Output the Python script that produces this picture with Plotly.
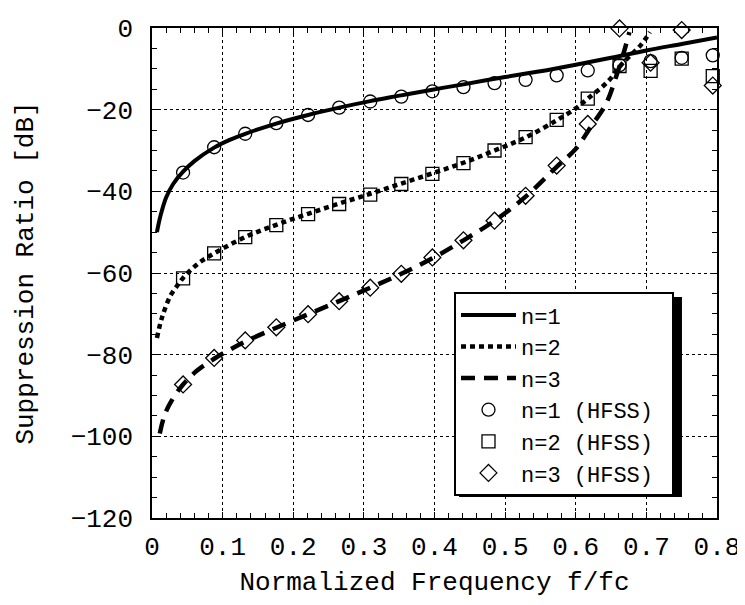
import plotly.graph_objects as go

# ---- data ----
n1_x = [0.007, 0.012, 0.02, 0.03, 0.044, 0.06, 0.088, 0.11, 0.132, 0.176, 0.221, 0.265,
        0.309, 0.353, 0.397, 0.441, 0.5, 0.55, 0.6, 0.65, 0.7, 0.75, 0.8]
n1_y = [-50.0, -46.0, -41.5, -38.2, -35.2, -32.6, -29.3, -27.4, -25.9, -23.4, -21.3, -19.5,
        -17.9, -16.5, -15.1, -13.8, -12.0, -10.6, -9.0, -7.3, -5.5, -3.9, -2.3]

n2_x = [0.007, 0.014, 0.026, 0.037, 0.044, 0.066, 0.088, 0.132, 0.176, 0.221, 0.265, 0.309,
        0.353, 0.397, 0.441, 0.485, 0.529, 0.573, 0.6, 0.617, 0.645, 0.666, 0.692, 0.705]
n2_y = [-75.9, -71.0, -65.6, -62.8, -61.2, -57.6, -55.2, -51.2, -48.2, -45.5, -43.0, -40.6,
        -38.1, -35.6, -33.0, -30.0, -26.8, -22.6, -19.7, -17.3, -13.2, -8.7, -4.2, -1.0]

n3_x = [0.011, 0.018, 0.028, 0.044, 0.063, 0.088, 0.11, 0.132, 0.176, 0.221, 0.265, 0.309,
        0.353, 0.397, 0.441, 0.485, 0.529, 0.573, 0.6, 0.621, 0.643, 0.657, 0.668, 0.676]
n3_y = [-99.3, -94.7, -91.2, -87.3, -84.0, -81.0, -78.8, -76.8, -73.4, -70.1, -66.9, -63.6,
        -60.2, -56.4, -52.0, -47.2, -41.3, -34.0, -29.6, -24.3, -18.5, -12.0, -6.0, -1.0]

hfss_x = [0.044, 0.088, 0.132, 0.176, 0.221, 0.265, 0.309, 0.353, 0.397, 0.441, 0.485, 0.529,
          0.573, 0.617, 0.662, 0.706, 0.750, 0.794]
hfss1_y = [-35.4, -29.2, -25.9, -23.3, -21.3, -19.5, -18.0, -16.8, -15.5, -14.5, -13.5, -12.7,
           -11.6, -10.4, -9.1, -8.1, -7.3, -6.7]
hfss2_y = [-61.3, -55.2, -51.2, -48.3, -45.6, -43.1, -40.8, -38.2, -35.7, -33.1, -30.0, -26.7,
           -22.5, -17.3, -9.3, -10.5, -7.5, -11.8]
hfss3_y = [-87.3, -80.8, -76.5, -73.3, -70.1, -66.9, -63.6, -60.2, -56.2, -52.0, -47.2, -41.1,
           -33.7, -23.5, -0.1, -8.5, -0.5, -14.1]

line_names = ["n=1", "n=2", "n=3"]
hfss_names = ["n=1 (HFSS)\u00a0", "n=2 (HFSS)\u00a0", "n=3 (HFSS)\u00a0"]

x_ticks = [0, 0.1, 0.2, 0.3, 0.4, 0.5, 0.6, 0.7, 0.8]
x_tick_labels = ["0", "0.1", "0.2", "0.3", "0.4", "0.5", "0.6", "0.7", "0.8"]
y_ticks = [0, -20, -40, -60, -80, -100, -120]
y_tick_labels = ["0", "\u221220", "\u221240", "\u221260", "\u221280", "\u2212100", "\u2212120"]

FONT = "Liberation Mono"

fig = go.Figure()
fig.add_trace(go.Scatter(x=n1_x, y=n1_y, mode="lines", name=line_names[0],
                         line=dict(color="black", width=4, shape="spline")))
fig.add_trace(go.Scatter(x=n2_x, y=n2_y, mode="lines", name=line_names[1],
                         line=dict(color="black", width=4.5, dash="5px,4px", shape="spline")))
fig.add_trace(go.Scatter(x=n3_x, y=n3_y, mode="lines", name=line_names[2],
                         line=dict(color="black", width=4.5, dash="14px,9px", shape="spline")))
fig.add_trace(go.Scatter(x=hfss_x, y=hfss1_y, mode="markers", name=hfss_names[0], cliponaxis=False,
                         marker=dict(symbol="circle-open", size=13, color="black",
                                     line=dict(width=1.3, color="black"))))
fig.add_trace(go.Scatter(x=hfss_x, y=hfss2_y, mode="markers", name=hfss_names[1], cliponaxis=False,
                         marker=dict(symbol="square-open", size=13, color="black",
                                     line=dict(width=1.3, color="black"))))
fig.add_trace(go.Scatter(x=hfss_x, y=hfss3_y, mode="markers", name=hfss_names[2], cliponaxis=False,
                         marker=dict(symbol="diamond-open", size=13, color="black",
                                     line=dict(width=1.3, color="black"))))

# legend drop shadow (drawn beneath the legend box)
fig.add_shape(type="rect", xref="paper", yref="paper",
              x0=0.5434, x1=0.938, y0=0.043, y1=0.451,
              fillcolor="black", line=dict(width=0), layer="above")

axis_common = dict(
    showline=True, linecolor="black", linewidth=1.5, mirror="ticks",
    ticks="inside", ticklen=6, tickwidth=1.2, tickcolor="black",
    showgrid=True, gridcolor="black", gridwidth=1, griddash="dot",
    zeroline=False, automargin=False,
    tickfont=dict(family=FONT, size=26, color="black"),
)

fig.update_layout(
    width=737, height=597,
    margin=dict(l=144, r=28, t=20, b=87, autoexpand=False),
    paper_bgcolor="white", plot_bgcolor="white",
    showlegend=True,
    legend=dict(x=0.5345, y=0.461, xanchor="left", yanchor="top",
                bgcolor="white", bordercolor="black", borderwidth=2,
                itemwidth=55,
                font=dict(family=FONT, size=22, color="black"),
                tracegroupgap=0),
    xaxis=dict(range=[0, 0.8], tickvals=x_ticks, ticktext=x_tick_labels,
               title=dict(text="Normalized Frequency f/fc",
                          font=dict(family=FONT, size=26, color="black"), standoff=10),
               minor=dict(dtick=0.02, ticks="inside", ticklen=5, tickcolor="black", showgrid=False),
               ticklabelstandoff=4,
               **axis_common),
    yaxis=dict(range=[-120, 0], tickvals=y_ticks, ticktext=y_tick_labels,
               title=dict(text="Suppression Ratio [dB]",
                          font=dict(family=FONT, size=26, color="black"), standoff=30),
               minor=dict(dtick=5, ticks="inside", ticklen=5, tickcolor="black", showgrid=False),
               ticklabelstandoff=12,
               **axis_common),
)

fig.write_html("out.html")
